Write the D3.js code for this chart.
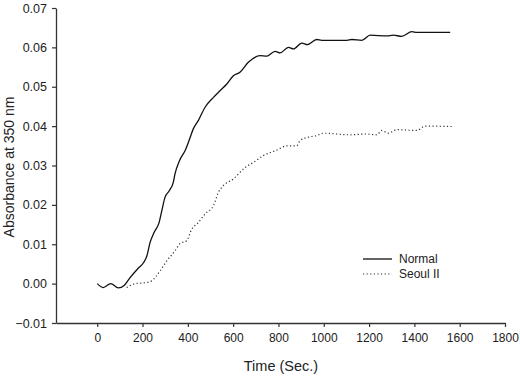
<!DOCTYPE html>
<html>
<head>
<meta charset="utf-8">
<script src="https://cdn.jsdelivr.net/npm/d3@7"></script>
<style>
  body { margin: 0; background: #fff; }
  text { font-family: "Liberation Sans", Arial, sans-serif; font-weight: 400; }
</style>
</head>
<body>
<div id="chart"></div>
<script>
// data
const normalTime = [0, 26, 60, 93, 120, 145, 181, 204, 219, 233, 251, 273, 285, 299, 318, 336, 343, 363, 388, 410, 424, 446, 476, 513, 542, 572, 601, 630, 667, 719, 748, 785, 807, 844, 866, 903, 928, 969, 991, 1102, 1124, 1168, 1205, 1278, 1307, 1344, 1389, 1411, 1558];
const normalAbs = [0, -0.001, 0, -0.0011, -0.0004, 0.0015, 0.0039, 0.0053, 0.007, 0.0104, 0.013, 0.0155, 0.0185, 0.0219, 0.0236, 0.0258, 0.0278, 0.0312, 0.0338, 0.0371, 0.0393, 0.0414, 0.0448, 0.0473, 0.049, 0.0507, 0.0528, 0.0537, 0.0562, 0.0579, 0.0578, 0.059, 0.0586, 0.060, 0.0596, 0.0611, 0.0607, 0.062, 0.0618, 0.0618, 0.062, 0.0618, 0.0631, 0.0629, 0.0631, 0.0628, 0.064, 0.0638, 0.0638];

const seoulTime = [130, 167, 218, 240, 277, 307, 343, 366, 395, 417, 446, 476, 513, 535, 557, 601, 653, 690, 733, 792, 837, 881, 895, 932, 969, 998, 1116, 1182, 1234, 1256, 1285, 1322, 1411, 1447, 1565];
const seoulAbs = [-0.001, 0, 0.0003, 0.0007, 0.0032, 0.0058, 0.0083, 0.0102, 0.0109, 0.0138, 0.0155, 0.0177, 0.0198, 0.0232, 0.0249, 0.0266, 0.0295, 0.0308, 0.0325, 0.0339, 0.035, 0.035, 0.0363, 0.0372, 0.0376, 0.0382, 0.0378, 0.038, 0.0378, 0.0389, 0.0382, 0.0391, 0.0389, 0.040, 0.0399];

const xTicks = [0, 200, 400, 600, 800, 1000, 1200, 1400, 1600, 1800];
const yTicks = [-0.01, 0, 0.01, 0.02, 0.03, 0.04, 0.05, 0.06, 0.07];
const seriesNames = ["Normal", "Seoul II"];

const width = 520
const height = 378
const margin = { top: 8, right: 15, bottom: 55, left: 56 }

const svg = d3.select("#chart")
  .append("svg")
  .attr("width", width)
  .attr("height", height)

const x = d3.scaleLinear()
  .domain([-182, 1800])
  .range([margin.left, width - margin.right])

const y = d3.scaleLinear()
  .domain([-0.01, 0.07])
  .range([height - margin.bottom, margin.top])

const axisColor = "#333"

// x axis
const gx = svg.append("g")
  .attr("transform", "translate(0," + (height - margin.bottom) + ")")
  .call(d3.axisBottom(x).tickValues(xTicks).tickSize(4).tickPadding(6).tickSizeOuter(0).tickFormat(d3.format("d")))
gx.select(".domain").attr("stroke", axisColor).attr("stroke-width", 1.3)
gx.selectAll(".tick line").attr("stroke", axisColor).attr("stroke-width", 1.2)
gx.selectAll(".tick text")
  .attr("fill", "#222")
  .attr("font-size", "12px")
  .attr("font-family", "Liberation Sans, Arial, sans-serif")

// y axis
const gy = svg.append("g")
  .attr("transform", "translate(" + margin.left + ",0)")
  .call(d3.axisLeft(y).tickValues(yTicks).tickSize(4).tickPadding(5).tickSizeOuter(0).tickFormat(d3.format(".2f")))
gy.select(".domain").attr("stroke", axisColor).attr("stroke-width", 1.3)
gy.selectAll(".tick line").attr("stroke", axisColor).attr("stroke-width", 1.2)
gy.selectAll(".tick text")
  .attr("fill", "#222")
  .attr("font-size", "12.5px")
  .attr("font-family", "Liberation Sans, Arial, sans-serif")

// axis titles
svg.append("text")
  .attr("x", 281)
  .attr("y", 371)
  .attr("text-anchor", "middle")
  .attr("font-size", "14.5px")
  .attr("fill", "#222")
  .text("Time (Sec.)")

svg.append("text")
  .attr("transform", "translate(14,167) rotate(-90)")
  .attr("text-anchor", "middle")
  .attr("font-size", "14px")
  .attr("fill", "#222")
  .text("Absorbance at 350 nm")

// lines
const line = d3.line()
  .x(d => x(d[0]))
  .y(d => y(d[1]))
  .curve(d3.curveMonotoneX)

svg.append("path")
  .datum(d3.zip(normalTime, normalAbs))
  .attr("fill", "none")
  .attr("stroke", "#111")
  .attr("stroke-width", 1.3)
  .attr("d", line)

svg.append("path")
  .datum(d3.zip(seoulTime, seoulAbs))
  .attr("fill", "none")
  .attr("stroke", "#333")
  .attr("stroke-width", 1.2)
  .attr("stroke-dasharray", "1.2,2.4")
  .attr("d", line)

// legend
const legend = svg.append("g")
  .attr("transform", "translate(363,259)")

legend.append("line")
  .attr("x1", 0).attr("x2", 29).attr("y1", 0).attr("y2", 0)
  .attr("stroke", "#111").attr("stroke-width", 1.3)
legend.append("line")
  .attr("x1", 0).attr("x2", 29).attr("y1", 15).attr("y2", 15)
  .attr("stroke", "#333").attr("stroke-width", 1.2)
  .attr("stroke-dasharray", "1.2,2.4")

legend.selectAll(".lbl")
  .data(seriesNames)
  .enter()
  .append("text")
  .attr("x", 36)
  .attr("y", (d, i) => i * 15 + 4)
  .attr("font-size", "12px")
  .attr("fill", "#222")
  .text(d => d)
</script>
</body>
</html>
